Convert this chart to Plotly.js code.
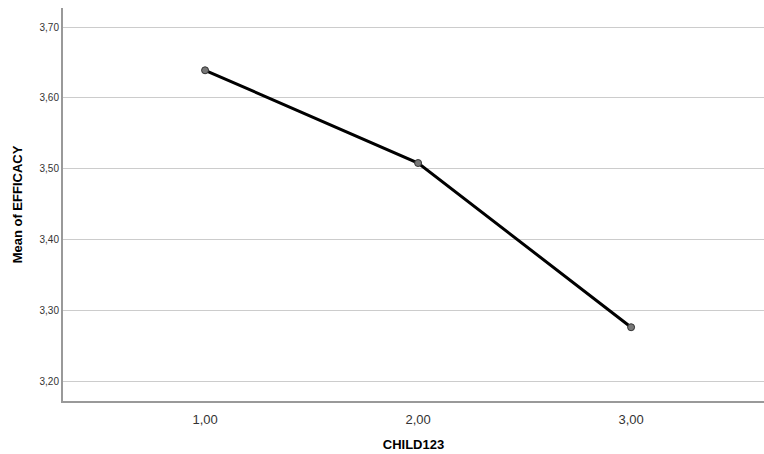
<!DOCTYPE html>
<html>
<head>
<meta charset="utf-8">
<script src="https://cdn.plot.ly/plotly-3.0.1.min.js"></script>
<style>html,body{margin:0;padding:0;background:#fff;}#chart{width:764px;height:454px;}</style>
</head>
<body>
<div id="chart"></div>
<script>
const categories = [1, 2, 3];
const categoryLabels = ["1,00", "2,00", "3,00"];
const meanEfficacy = [3.639, 3.508, 3.276];
const yTicks = [3.2, 3.3, 3.4, 3.5, 3.6, 3.7];
const yTickLabels = ["3,20", "3,30", "3,40", "3,50", "3,60", "3,70"];

const trace = {
  x: categories,
  y: meanEfficacy,
  type: 'scatter',
  mode: 'lines+markers',
  line: {color: '#000000', width: 3},
  marker: {color: '#777777', size: 7, line: {color: '#333333', width: 1}},
  hoverinfo: 'skip'
};

const layout = {
  width: 764,
  height: 454,
  margin: {l: 63, r: 0, t: 8, b: 53},
  paper_bgcolor: '#ffffff',
  plot_bgcolor: '#ffffff',
  font: {family: 'Liberation Sans, Arial, sans-serif', color: '#333333'},
  showlegend: false,
  xaxis: {
    range: [0.333, 3.624],
    tickvals: categories,
    ticktext: categoryLabels,
    showgrid: false,
    zeroline: false,
    showline: true,
    linecolor: '#999999',
    linewidth: 2,
    ticks: '',
    ticklabelstandoff: 5,
    tickfont: {size: 13, color: '#333333'},
    title: {text: 'CHILD123', font: {size: 13, color: '#000000', weight: 'bold'}, standoff: 14}
  },
  yaxis: {
    range: [3.1718, 3.727],
    tickvals: yTicks,
    ticktext: yTickLabels,
    showgrid: true,
    gridcolor: '#cccccc',
    gridwidth: 1,
    zeroline: false,
    showline: true,
    linecolor: '#999999',
    linewidth: 2,
    ticks: '',
    tickfont: {size: 10, color: '#333333'},
    title: {text: 'Mean of EFFICACY', font: {size: 13, color: '#000000', weight: 'bold'}, standoff: 14}
  }
};

Plotly.newPlot('chart', [trace], layout, {displayModeBar: false, staticPlot: true});
</script>
</body>
</html>
